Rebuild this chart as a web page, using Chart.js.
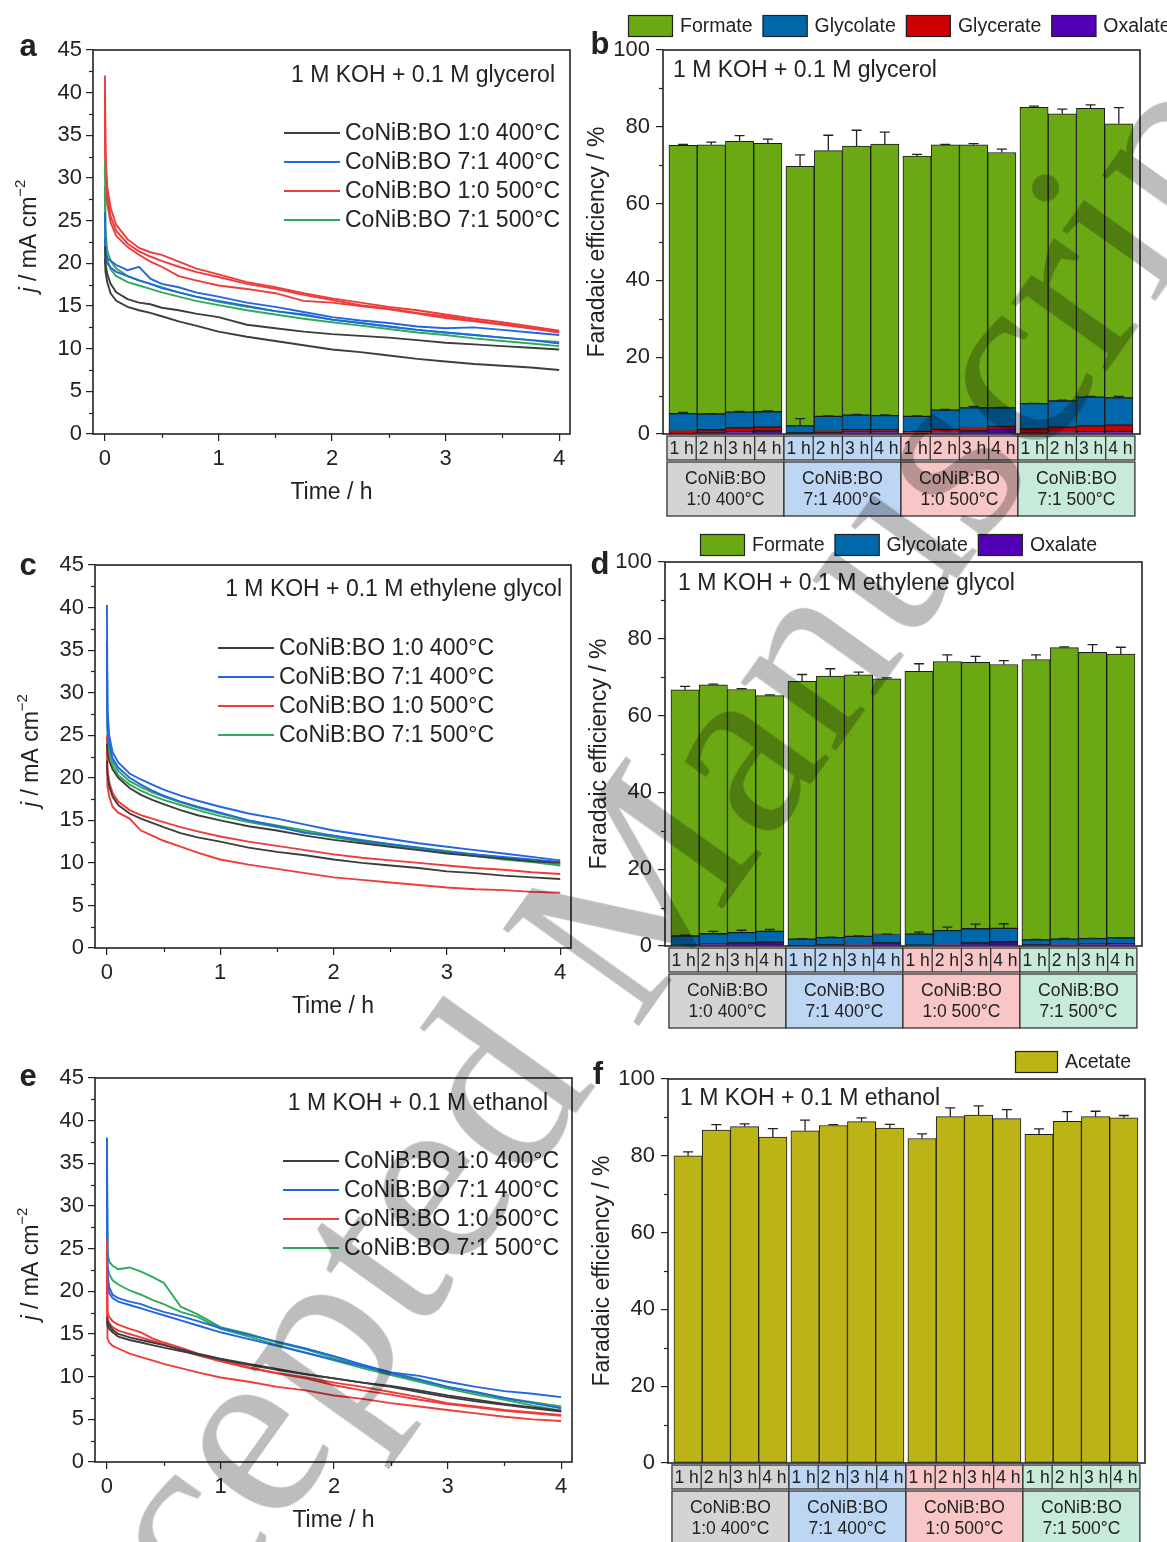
<!DOCTYPE html>
<html>
<head>
<meta charset="utf-8">
<script src="https://cdn.jsdelivr.net/npm/chart.js@4.4.1/dist/chart.umd.min.js"></script>
<style>
html, body { margin: 0; padding: 0; background: #fff; }
body { position: relative; width: 1167px; height: 1542px; overflow: hidden; }
canvas { position: absolute; }
#wm {
  position: absolute; left: -135px; top: 1744px;
  transform-origin: 0 0; transform: rotate(-54.5deg);
  font: 255px/1 'Liberation Serif', 'Times New Roman', serif;
  color: #bdbdbd; mix-blend-mode: multiply; white-space: nowrap; pointer-events: none;
}
</style>
</head>
<body>
<canvas id="chartA" width="585" height="520" style="left:0;top:0"></canvas>
<canvas id="chartB" width="582" height="520" style="left:585px;top:0"></canvas>
<canvas id="chartC" width="585" height="520" style="left:0;top:515px"></canvas>
<canvas id="chartD" width="582" height="520" style="left:585px;top:515px"></canvas>
<canvas id="chartE" width="585" height="514" style="left:0;top:1028px"></canvas>
<canvas id="chartF" width="582" height="512" style="left:585px;top:1030px"></canvas>
<div id="wm">Accepted Manuscript</div>

<script>
// ---- data ----
const seriesNames = ['CoNiB:BO 1:0 400°C', 'CoNiB:BO 7:1 400°C', 'CoNiB:BO 1:0 500°C', 'CoNiB:BO 7:1 500°C'];
const lineColors = ['#3d3d3d', '#2266e0', '#ee3b3b', '#2faa5c'];
const timeTicks = [0, 1, 2, 3, 4];
const jTicks = [0, 5, 10, 15, 20, 25, 30, 35, 40, 45];
const feTicks = [0, 20, 40, 60, 80, 100];

// sampling times (h) of the chronoamperometry curves
const tHours = [0, 0.005, 0.02, 0.05, 0.1, 0.2, 0.3, 0.4, 0.5, 0.65, 0.8, 1, 1.25, 1.5, 1.75, 2, 2.25, 2.5, 2.75, 3, 3.25, 3.5, 3.75, 4];

// (a) glycerol, j in mA cm-2
const glyc400_10a = [22.0, 20.0, 18.8, 17.6, 16.6, 15.8, 15.4, 15.2, 14.8, 14.5, 14.1, 13.7, 12.8, 12.4, 12.0, 11.7, 11.5, 11.3, 11.0, 10.7, 10.5, 10.3, 10.1, 9.9];
const glyc400_10b = [20.5, 19.0, 17.8, 16.5, 15.6, 14.9, 14.5, 14.2, 13.8, 13.2, 12.7, 12.0, 11.4, 10.9, 10.4, 9.9, 9.6, 9.2, 8.8, 8.5, 8.2, 8.0, 7.8, 7.5];
const glyc400_71a = [26.0, 21.5, 20.6, 20.3, 19.8, 19.2, 19.6, 18.2, 17.6, 17.2, 16.6, 16.1, 15.4, 14.9, 14.3, 13.7, 13.3, 13.0, 12.6, 12.4, 12.5, 12.2, 11.9, 11.6];
const glyc400_71b = [23.0, 20.5, 20.0, 19.5, 19.0, 18.5, 18.0, 17.6, 17.1, 16.6, 16.1, 15.6, 15.0, 14.4, 14.0, 13.4, 13.0, 12.6, 12.2, 11.9, 11.6, 11.3, 11.0, 10.6];
const glyc500_10a = [42.0, 33.0, 29.0, 26.5, 24.5, 22.8, 21.8, 21.3, 21.0, 20.2, 19.4, 18.7, 17.8, 17.2, 16.5, 15.9, 15.4, 14.9, 14.5, 14.0, 13.5, 13.1, 12.6, 12.1];
const glyc500_10b = [40.0, 31.5, 28.0, 25.5, 23.8, 22.3, 21.4, 20.8, 20.3, 19.6, 19.0, 18.4, 17.6, 17.0, 16.3, 15.7, 15.1, 14.7, 14.2, 13.8, 13.3, 12.9, 12.4, 11.9];
const glyc500_10c = [38.0, 30.0, 27.0, 24.8, 23.2, 21.9, 21.0, 20.2, 19.6, 18.5, 18.0, 17.4, 17.0, 16.5, 15.6, 15.4, 15.0, 14.6, 14.1, 13.6, 13.2, 12.8, 12.4, 12.0];
const glyc500_71a = [32.0, 24.0, 21.5, 20.3, 19.4, 18.5, 18.0, 17.6, 17.2, 16.6, 16.1, 15.5, 14.9, 14.4, 13.9, 13.4, 13.0, 12.6, 12.2, 11.9, 11.6, 11.3, 11.0, 10.8];
const glyc500_71b = [29.0, 22.5, 20.5, 19.3, 18.5, 17.8, 17.4, 17.0, 16.6, 16.1, 15.6, 15.1, 14.5, 14.0, 13.5, 13.1, 12.7, 12.3, 11.9, 11.6, 11.2, 10.9, 10.6, 10.3];

// (c) ethylene glycol
const eg400_10a = [24.0, 23.0, 22.0, 21.0, 20.0, 18.8, 18.0, 17.4, 16.9, 16.2, 15.6, 15.0, 14.3, 13.8, 13.2, 12.7, 12.3, 11.9, 11.5, 11.1, 10.8, 10.5, 10.2, 10.0];
const eg400_10b = [22.0, 20.5, 19.0, 17.8, 16.8, 15.8, 15.2, 14.7, 14.2, 13.5, 13.0, 12.5, 11.8, 11.3, 10.9, 10.4, 10.0, 9.7, 9.4, 9.0, 8.8, 8.5, 8.3, 8.1];
const eg400_71a = [40.3, 28.0, 25.0, 23.0, 21.8, 20.5, 19.8, 19.2, 18.6, 17.9, 17.3, 16.6, 15.8, 15.2, 14.5, 13.8, 13.3, 12.8, 12.3, 11.9, 11.5, 11.1, 10.7, 10.3];
const eg400_71b = [36.0, 26.0, 24.0, 22.3, 21.2, 20.0, 19.2, 18.5, 17.9, 17.2, 16.6, 15.9, 15.0, 14.3, 13.5, 13.2, 12.6, 12.2, 11.8, 11.3, 11.0, 10.7, 10.4, 10.1];
const eg500_10a = [25.0, 21.0, 19.5, 18.2, 17.2, 16.2, 15.6, 15.2, 14.8, 14.2, 13.7, 13.1, 12.5, 12.0, 11.5, 11.0, 10.6, 10.3, 10.0, 9.7, 9.4, 9.2, 8.9, 8.7];
const eg500_10b = [23.0, 19.0, 17.8, 16.6, 15.9, 15.2, 13.8, 13.2, 12.6, 11.9, 11.2, 10.4, 9.8, 9.3, 8.8, 8.3, 8.0, 7.7, 7.4, 7.1, 6.9, 6.8, 6.6, 6.5];
const eg500_71a = [35.8, 26.0, 23.5, 22.0, 20.8, 19.6, 18.9, 18.3, 17.8, 17.1, 16.5, 15.8, 15.0, 14.4, 13.8, 13.2, 12.7, 12.2, 11.8, 11.4, 11.0, 10.6, 10.2, 9.8];
const eg500_71b = [31.0, 25.0, 23.0, 21.5, 20.3, 19.2, 18.5, 17.9, 17.4, 16.8, 16.2, 15.5, 14.8, 14.2, 13.6, 13.0, 12.5, 12.1, 11.6, 11.2, 10.8, 10.4, 10.1, 9.7];

// (e) ethanol
const eth400_10a = [17.0, 16.5, 16.0, 15.5, 15.0, 14.6, 14.3, 14.0, 13.7, 13.2, 12.7, 12.1, 11.5, 10.9, 10.3, 9.8, 9.3, 8.8, 8.2, 7.6, 7.1, 6.7, 6.3, 5.9];
const eth400_10b = [16.5, 16.0, 15.6, 15.2, 14.7, 14.3, 14.0, 13.7, 13.4, 13.0, 12.6, 12.0, 11.4, 10.8, 10.3, 9.8, 9.3, 8.9, 8.4, 7.8, 7.3, 6.8, 6.4, 6.0];
const eth400_71a = [38.0, 22.0, 20.5, 19.6, 19.2, 18.8, 18.5, 18.0, 17.6, 17.1, 16.5, 15.7, 14.9, 14.1, 13.3, 12.4, 11.4, 10.5, 10.1, 9.4, 8.8, 8.3, 8.0, 7.6];
const eth400_71b = [37.0, 21.0, 19.8, 19.2, 18.8, 18.4, 18.0, 17.6, 17.2, 16.6, 16.0, 15.2, 14.4, 13.6, 12.8, 12.0, 11.2, 10.4, 9.6, 8.8, 8.2, 7.5, 6.9, 6.3];
const eth500_10a = [26.0, 17.5, 17.0, 16.5, 16.1, 15.6, 15.2, 14.5, 14.0, 13.4, 12.7, 12.0, 11.1, 10.4, 9.9, 9.3, 8.8, 8.2, 7.6, 6.9, 6.5, 6.1, 5.8, 5.5];
const eth500_10b = [24.0, 16.8, 16.3, 15.8, 15.4, 15.0, 14.6, 14.2, 13.8, 13.1, 12.5, 11.8, 11.0, 10.4, 9.8, 9.0, 8.4, 7.9, 7.3, 6.8, 6.4, 6.0, 5.7, 5.4];
const eth500_10c = [22.0, 14.5, 14.0, 13.6, 13.3, 12.7, 12.3, 11.9, 11.5, 11.0, 10.5, 9.9, 9.4, 8.8, 8.4, 7.8, 7.4, 6.9, 6.5, 6.1, 5.7, 5.3, 5.0, 4.8];
const eth500_71a = [38.0, 24.5, 23.5, 23.0, 22.6, 22.8, 22.3, 21.7, 21.0, 18.2, 17.3, 15.8, 15.0, 14.0, 13.2, 12.2, 11.3, 10.5, 9.7, 8.8, 8.1, 7.5, 7.0, 6.5];
const eth500_71b = [30.0, 23.0, 22.0, 21.3, 20.8, 20.1, 19.6, 19.0, 18.5, 17.6, 17.0, 15.6, 14.7, 13.7, 12.8, 11.9, 11.0, 10.2, 9.4, 8.6, 7.9, 7.3, 6.6, 6.0];

// bar categories
const groupNames = [['CoNiB:BO', '1:0 400°C'], ['CoNiB:BO', '7:1 400°C'], ['CoNiB:BO', '1:0 500°C'], ['CoNiB:BO', '7:1 500°C']];
const groupColors = ['#d4d4d4', '#bdd6f4', '#f8c6c6', '#c7ebd8'];
const hourLabels = ['1 h', '2 h', '3 h', '4 h'];

// (b) glycerol faradaic efficiency, %
const bOxalate   = [0.1, 0.3, 0.6, 0.8,  0.1, 0.3, 0.5, 0.5,  0.1, 0.4, 0.8, 1.2,  0.2, 0.4, 0.6, 0.7];
const bGlycerate = [0.8, 0.8, 1.0, 1.0,  0.2, 0.6, 0.6, 0.6,  0.5, 0.8, 0.9, 0.8,  1.1, 1.4, 1.5, 1.6];
const bGlycolate = [4.4, 4.1, 4.1, 4.0,  1.8, 3.7, 3.8, 3.7,  4.0, 5.0, 5.1, 4.8,  6.6, 6.8, 7.5, 7.1];
const bFormate   = [69.9, 70.1, 70.5, 69.9,  67.6, 69.2, 70.1, 70.7,  67.8, 69.1, 68.5, 66.5,  77.2, 74.8, 75.2, 71.4];
const bGlycolateErr = [0.3, 0.1, 0.2, 0.2,  1.9, 0.1, 0.2, 0.2,  0.1, 0.2, 0.4, 0.1,  0.1, 0.2, 0.2, 0.4];
const bFormateErr   = [0.2, 0.7, 1.5, 1.1,  3.0, 4.0, 4.1, 3.1,  0.4, 0.1, 0.3, 0.9,  0.3, 1.2, 0.9, 4.2];

// (d) ethylene glycol
const dOxalate   = [0.2, 0.5, 0.8, 1.0,  0.1, 0.3, 0.4, 0.8,  0.2, 0.4, 0.8, 1.1,  0.3, 0.4, 0.5, 0.6];
const dGlycolate = [2.4, 2.7, 2.7, 2.8,  1.7, 1.9, 2.1, 2.2,  2.9, 3.6, 3.7, 3.5,  1.3, 1.4, 1.4, 1.5];
const dFormate   = [64.1, 64.8, 63.3, 61.4,  67.1, 68.1, 68.1, 66.6,  68.4, 70.1, 69.4, 68.7,  73.0, 75.9, 74.6, 73.9];
const dGlycolateErr = [0.2, 0.6, 0.6, 0.5,  0.1, 0.1, 0.1, 0.1,  0.5, 0.9, 1.2, 1.2,  0.1, 0.2, 0.1, 0.1];
const dFormateErr   = [0.9, 0.2, 0.2, 0.2,  1.8, 1.9, 0.7, 0.2,  2.0, 1.7, 1.5, 1.0,  1.2, 0.2, 2.0, 1.8];

// (f) ethanol
const fAcetate    = [80.0, 86.7, 87.6, 84.9,  86.5, 87.9, 88.9, 87.2,  84.5, 90.2, 90.6, 89.7,  85.6, 89.0, 90.2, 89.9];
const fAcetateErr = [1.0, 1.4, 0.7, 2.2,  2.8, 0.2, 1.0, 1.0,  1.2, 2.3, 2.4, 2.3,  1.4, 2.5, 1.4, 0.6];

const productColors = { Formate: '#6aa814', Glycolate: '#0068aa', Glycerate: '#cc0000', Oxalate: '#5200b8', Acetate: '#bcb416' };

// ---- drawing ----
const INK = '#222';
const FONT = "'Liberation Sans', Arial, sans-serif";
Chart.defaults.font.family = FONT;
Chart.defaults.color = INK;

// bar centres: four hours per sample, small gap between samples
const groupStep = 4.14;
const barX = [];
groupNames.forEach((g, gi) => hourLabels.forEach((h, hi) => barX.push(gi * groupStep + hi)));

function fnt(size, style) { return (style || '') + ' ' + size + 'px ' + FONT; }

function richText(ctx, parts, cx, cy) {
  // parts: [text, size, style, raise]
  let w = 0;
  parts.forEach(p => { ctx.font = fnt(p[1], p[2]); w += ctx.measureText(p[0]).width; });
  let x = cx - w / 2;
  ctx.textAlign = 'left'; ctx.textBaseline = 'middle';
  parts.forEach(p => {
    ctx.font = fnt(p[1], p[2]);
    ctx.fillText(p[0], x, cy - (p[3] || 0));
    x += ctx.measureText(p[0]).width;
  });
}

function deco(cfg) {
  return {
    id: 'deco',
    afterDatasetsDraw(chart) {
      if (!cfg.errors) return;
      const ctx = chart.ctx, ys = chart.scales.y, sets = chart.data.datasets;
      ctx.save();
      ctx.strokeStyle = INK; ctx.lineWidth = 1.3;
      sets.forEach((ds, k) => {
        const err = cfg.errors[ds.label];
        if (!err) return;
        chart.getDatasetMeta(k).data.forEach((bar, i) => {
          let top = 0;
          for (let j = 0; j <= k; j++) top += sets[j].data[i].y;
          const y0 = ys.getPixelForValue(top), y1 = ys.getPixelForValue(top + err[i]);
          ctx.beginPath();
          ctx.moveTo(bar.x, y0); ctx.lineTo(bar.x, y1);
          ctx.moveTo(bar.x - 5, y1); ctx.lineTo(bar.x + 5, y1);
          ctx.stroke();
        });
      });
      ctx.restore();
    },
    afterDraw(chart) {
      const ctx = chart.ctx, a = chart.chartArea, xs = chart.scales.x, ys = chart.scales.y;
      ctx.save();
      ctx.fillStyle = INK; ctx.strokeStyle = INK;

      // minor ticks
      ctx.lineWidth = 1.2;
      (cfg.minorY || []).forEach(v => {
        const y = Math.round(ys.getPixelForValue(v)) + 0.5;
        ctx.beginPath(); ctx.moveTo(a.left - 4, y); ctx.lineTo(a.left, y); ctx.stroke();
      });
      (cfg.minorX || []).forEach(v => {
        const x = Math.round(xs.getPixelForValue(v)) + 0.5;
        ctx.beginPath(); ctx.moveTo(x, a.bottom); ctx.lineTo(x, a.bottom + 4); ctx.stroke();
      });

      // frame
      ctx.lineWidth = 1.6;
      ctx.strokeRect(a.left, a.top, a.right - a.left, a.bottom - a.top);

      // panel letter
      ctx.font = fnt(31, 'bold'); ctx.textAlign = 'center'; ctx.textBaseline = 'middle';
      ctx.fillText(cfg.letter[0], a.left + cfg.letter[1], a.top + cfg.letter[2]);

      // electrolyte note
      ctx.font = fnt(23); ctx.textBaseline = 'middle';
      if (cfg.note.right) {
        ctx.textAlign = 'right';
        ctx.fillText(cfg.note.text, a.right + cfg.note.dx, a.top + cfg.note.dy);
      } else {
        ctx.textAlign = 'left';
        ctx.fillText(cfg.note.text, a.left + cfg.note.dx, a.top + cfg.note.dy);
      }

      // axis titles
      ctx.save();
      ctx.translate(a.left + cfg.yTitleDx, (a.top + a.bottom) / 2 + cfg.yTitleDy);
      ctx.rotate(-Math.PI / 2);
      richText(ctx, cfg.yTitle, 0, 0);
      ctx.restore();
      if (cfg.xTitle) {
        ctx.font = fnt(23); ctx.textAlign = 'center'; ctx.textBaseline = 'middle';
        ctx.fillText(cfg.xTitle, (a.left + a.right) / 2, a.bottom + 59);
      }

      // legend of the current curves
      if (cfg.lineLegend) {
        const L = cfg.lineLegend;
        seriesNames.forEach((name, s) => {
          const y = a.top + L.dy + s * 29;
          ctx.strokeStyle = lineColors[s]; ctx.lineWidth = 2.2;
          ctx.beginPath(); ctx.moveTo(a.left + L.dx, y); ctx.lineTo(a.left + L.dx + 56, y); ctx.stroke();
          ctx.fillStyle = INK; ctx.font = fnt(23); ctx.textAlign = 'left'; ctx.textBaseline = 'middle';
          ctx.fillText(name, a.left + L.dx + 61, y + 1);
        });
      }

      // legend of the products
      if (cfg.barLegend) {
        const L = cfg.barLegend;
        let x = a.left + L.dx;
        const y = a.top + L.dy;
        chart.data.datasets.slice().reverse().forEach(ds => {
          ctx.fillStyle = ds.backgroundColor; ctx.fillRect(x, y, L.w, 22);
          ctx.strokeStyle = INK; ctx.lineWidth = 1.2; ctx.strokeRect(x + 0.5, y + 0.5, L.w - 1, 21);
          ctx.fillStyle = INK; ctx.font = fnt(19.5); ctx.textAlign = 'left'; ctx.textBaseline = 'middle';
          ctx.fillText(ds.label, x + L.w + 7, y + 12);
          x += L.w + 7 + ctx.measureText(ds.label).width + 10;
        });
      }

      // sample / hour boxes under the bars
      if (cfg.boxes) {
        const r1t = a.bottom + 2, r1b = a.bottom + 26, r2t = a.bottom + 28, r2b = a.bottom + 82;
        groupNames.forEach((g, gi) => {
          const x0 = xs.getPixelForValue(barX[gi * 4] - 0.57);
          const x1 = xs.getPixelForValue(barX[gi * 4 + 3] + 0.57);
          ctx.fillStyle = groupColors[gi];
          ctx.fillRect(x0, r1t, x1 - x0, r1b - r1t);
          ctx.fillRect(x0, r2t, x1 - x0, r2b - r2t);
          ctx.strokeStyle = '#333'; ctx.lineWidth = 1.3;
          ctx.strokeRect(x0, r1t, x1 - x0, r1b - r1t);
          ctx.strokeRect(x0, r2t, x1 - x0, r2b - r2t);
          ctx.fillStyle = INK; ctx.textAlign = 'center'; ctx.textBaseline = 'middle';
          hourLabels.forEach((h, hi) => {
            const c0 = x0 + (x1 - x0) * hi / 4, c1 = x0 + (x1 - x0) * (hi + 1) / 4;
            if (hi > 0) { ctx.beginPath(); ctx.moveTo(c0, r1t); ctx.lineTo(c0, r1b); ctx.stroke(); }
            ctx.font = fnt(17.5);
            ctx.fillText(h, (c0 + c1) / 2, r1t + 13);
          });
          ctx.font = fnt(17.5);
          ctx.fillText(g[0], (x0 + x1) / 2, r2t + 17);
          ctx.fillText(g[1], (x0 + x1) / 2, r2t + 38);
        });
      }
      ctx.restore();
    }
  };
}

const tickGrid = { drawOnChartArea: false, drawTicks: true, tickLength: 7, color: INK, lineWidth: 1.2 };

function lineChart(id, box, curves, cfg) {
  const cv = document.getElementById(id);
  return new Chart(cv, {
    type: 'line',
    data: {
      datasets: curves.map(c => ({
        data: tHours.map((t, i) => ({ x: t, y: c.y[i] })),
        borderColor: lineColors[c.s], borderWidth: 1.9, pointRadius: 0, tension: 0, fill: false
      }))
    },
    options: {
      responsive: false, animation: false, events: [],
      layout: { padding: { left: 0, top: box.t, right: cv.width - box.r, bottom: 0 } },
      plugins: { legend: { display: false }, tooltip: { enabled: false } },
      scales: {
        x: {
          type: 'linear', min: -0.105, max: 4.095,
          afterBuildTicks: s => { s.ticks = timeTicks.map(v => ({ value: v })); },
          afterFit: s => { s.height = cv.height - box.b; },
          grid: tickGrid, border: { display: false },
          ticks: { font: { size: 22 }, padding: 5, maxRotation: 0, autoSkip: false }
        },
        y: {
          min: 0, max: 45,
          afterBuildTicks: s => { s.ticks = jTicks.map(v => ({ value: v })); },
          afterFit: s => { s.width = box.l; },
          grid: tickGrid, border: { display: false },
          ticks: { font: { size: 22 }, padding: 4, autoSkip: false }
        }
      }
    },
    plugins: [deco(Object.assign({
      minorY: [2.5, 7.5, 12.5, 17.5, 22.5, 27.5, 32.5, 37.5, 42.5],
      minorX: [0.5, 1.5, 2.5, 3.5],
      yTitle: [['j', 23, 'italic'], [' / mA cm', 23], ['\u22122', 15, '', 9]],
      yTitleDx: -63, yTitleDy: -6,
      xTitle: 'Time / h'
    }, cfg))]
  });
}

function barChart(id, box, sets, cfg) {
  const cv = document.getElementById(id);
  return new Chart(cv, {
    type: 'bar',
    data: {
      datasets: sets.map(s => ({
        label: s[0],
        data: barX.map((x, i) => ({ x: x, y: s[1][i] })),
        backgroundColor: productColors[s[0]], borderColor: '#1b1b1b', borderWidth: 1,
        borderSkipped: false, barPercentage: 1, categoryPercentage: 1, stack: 'fe'
      }))
    },
    options: {
      responsive: false, animation: false, events: [],
      layout: { padding: { left: 0, top: box.t, right: cv.width - box.r, bottom: 0 } },
      plugins: { legend: { display: false }, tooltip: { enabled: false } },
      scales: {
        x: {
          type: 'linear', stacked: true, offset: false, min: -0.71, max: 16.17,
          afterFit: s => { s.height = cv.height - box.b; },
          grid: { display: false }, border: { display: false }, ticks: { display: false }
        },
        y: {
          stacked: true, min: 0, max: 100,
          afterBuildTicks: s => { s.ticks = feTicks.map(v => ({ value: v })); },
          afterFit: s => { s.width = box.l; },
          grid: tickGrid, border: { display: false },
          ticks: { font: { size: 22 }, padding: 6, autoSkip: false }
        }
      }
    },
    plugins: [deco(Object.assign({
      minorY: [10, 30, 50, 70, 90],
      yTitle: [['Faradaic efficiency / %', 23]],
      yTitleDx: -65, yTitleDy: 0,
      boxes: true
    }, cfg))]
  });
}

lineChart('chartA', { l: 93, t: 50, r: 570, b: 434 }, [
  { s: 0, y: glyc400_10a }, { s: 0, y: glyc400_10b },
  { s: 1, y: glyc400_71a }, { s: 1, y: glyc400_71b },
  { s: 3, y: glyc500_71a }, { s: 3, y: glyc500_71b },
  { s: 2, y: glyc500_10a }, { s: 2, y: glyc500_10b }, { s: 2, y: glyc500_10c }
], {
  letter: ['a', -65, -3],
  note: { text: '1 M KOH + 0.1 M glycerol', right: true, dx: -15, dy: 26 },
  lineLegend: { dx: 191, dy: 83 }
});

lineChart('chartC', { l: 95, t: 50, r: 571, b: 433 }, [
  { s: 0, y: eg400_10a }, { s: 0, y: eg400_10b },
  { s: 2, y: eg500_10a }, { s: 2, y: eg500_10b },
  { s: 1, y: eg400_71a }, { s: 1, y: eg400_71b },
  { s: 3, y: eg500_71a }, { s: 3, y: eg500_71b }
], {
  letter: ['c', -67, 1],
  note: { text: '1 M KOH + 0.1 M ethylene glycol', right: true, dx: -9, dy: 25 },
  lineLegend: { dx: 123, dy: 83 }
});

lineChart('chartE', { l: 95, t: 50, r: 572, b: 434 }, [
  { s: 0, y: eth400_10a }, { s: 0, y: eth400_10b },
  { s: 2, y: eth500_10a }, { s: 2, y: eth500_10b }, { s: 2, y: eth500_10c },
  { s: 1, y: eth400_71a }, { s: 1, y: eth400_71b },
  { s: 3, y: eth500_71a }, { s: 3, y: eth500_71b }
], {
  letter: ['e', -67, -1],
  note: { text: '1 M KOH + 0.1 M ethanol', right: true, dx: -24, dy: 26 },
  lineLegend: { dx: 188, dy: 83 }
});

barChart('chartB', { l: 78, t: 50, r: 555, b: 434 }, [
  ['Oxalate', bOxalate], ['Glycerate', bGlycerate], ['Glycolate', bGlycolate], ['Formate', bFormate]
], {
  letter: ['b', -63, -5],
  note: { text: '1 M KOH + 0.1 M glycerol', dx: 10, dy: 21 },
  barLegend: { dx: -35, dy: -35, w: 45 },
  errors: { Glycolate: bGlycolateErr, Formate: bFormateErr }
});

barChart('chartD', { l: 80, t: 47, r: 557, b: 431 }, [
  ['Oxalate', dOxalate], ['Glycolate', dGlycolate], ['Formate', dFormate]
], {
  letter: ['d', -65, 3],
  note: { text: '1 M KOH + 0.1 M ethylene glycol', dx: 13, dy: 22 },
  barLegend: { dx: 35, dy: -28, w: 45 },
  errors: { Glycolate: dGlycolateErr, Formate: dFormateErr }
});

barChart('chartF', { l: 83, t: 49, r: 560, b: 433 }, [
  ['Acetate', fAcetate]
], {
  letter: ['f', -70, -4],
  note: { text: '1 M KOH + 0.1 M ethanol', dx: 12, dy: 20 },
  barLegend: { dx: 347, dy: -28, w: 43 },
  errors: { Acetate: fAcetateErr }
});
</script>
</body>
</html>
